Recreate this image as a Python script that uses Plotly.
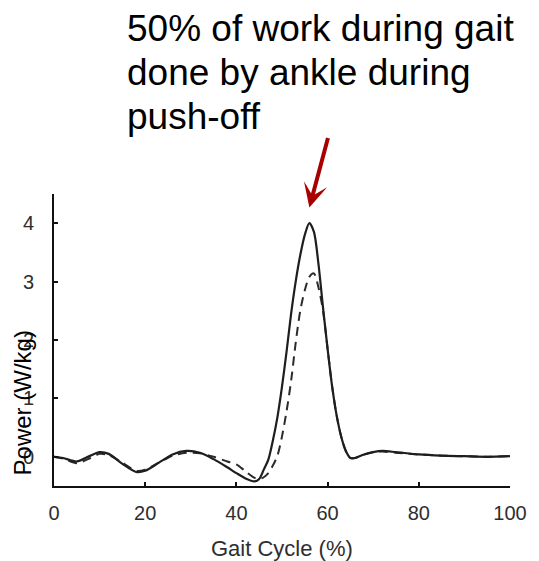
import plotly.graph_objects as go

# ---- data ----
gait_solid = [0, 2, 5, 8, 10, 12, 15, 18, 20, 23, 26, 29, 32, 35, 38, 40, 42, 44, 45, 46, 47,
              48, 49, 50, 51, 52, 53, 54, 55, 56, 57, 58, 59, 60, 61, 62, 63, 64, 65, 66,
              68, 70, 72, 75, 80, 85, 90, 95, 100]
power_solid = [0.0, -0.02, -0.08, 0.02, 0.08, 0.05, -0.12, -0.26, -0.24, -0.10, 0.04, 0.10, 0.07,
               -0.04, -0.18, -0.28, -0.37, -0.42, -0.38, -0.22, -0.05,
               0.28, 0.68, 1.2, 1.8, 2.45, 3.0, 3.45, 3.8, 4.0, 3.85, 3.3, 2.55, 1.85, 1.2,
               0.7, 0.34, 0.1, -0.02, -0.02, 0.04, 0.08, 0.10, 0.08, 0.04, 0.02, 0.01, 0.0, 0.01]

gait_dashed = [0, 2, 5, 8, 10, 12, 15, 18, 20, 23, 26, 29, 32, 35, 38, 40, 42, 44, 45, 46, 47,
               48, 49, 50, 51, 52, 53, 54, 55, 56, 57, 58, 59, 60, 61, 62, 63, 64, 65, 66,
               68, 70, 72, 75, 80, 85, 90, 95, 100]
power_dashed = [0.0, -0.03, -0.11, -0.02, 0.05, 0.03, -0.10, -0.24, -0.22, -0.10, 0.02, 0.07, 0.06,
                0.0, -0.08, -0.13, -0.25, -0.36, -0.38, -0.35, -0.28,
                -0.15, 0.02, 0.35, 0.78, 1.3, 1.95, 2.5, 2.85, 3.08, 3.14, 2.9, 2.5, 1.85, 1.2,
                0.7, 0.34, 0.1, -0.02, -0.02, 0.04, 0.08, 0.09, 0.07, 0.04, 0.02, 0.01, 0.0, 0.01]

x_ticks = [0, 20, 40, 60, 80, 100]
y_ticks = [0, 1, 2, 3, 4]
x_title = "Gait Cycle (%)"
y_title = "Power (W/kg)"
note_lines = ["50% of work during gait", "done by ankle during", "push-off"]

# ---- layout geometry (pixels) ----
W, H = 539, 561
L, R, T, B = 54, 23, 194, 75
PW, PH = W - L - R, H - T - B


def px(xp):
    return (xp - L) / PW


def py(yp):
    return (H - B - yp) / PH


FONT = "Liberation Sans, Arial, sans-serif"
TICKC = "#2e2e2e"

fig = go.Figure()
fig.add_trace(go.Scatter(x=gait_dashed, y=power_dashed, mode="lines",
                         line=dict(color="#2b2b2b", width=2, dash="9px,6px", shape="spline",
                                   smoothing=0.8),
                         hoverinfo="skip", showlegend=False))
fig.add_trace(go.Scatter(x=gait_solid, y=power_solid, mode="lines",
                         line=dict(color="#1e1e1e", width=2.2, shape="spline", smoothing=0.8),
                         hoverinfo="skip", showlegend=False))

annotations = []
# y title (overlapping the low tick labels like in the reference)
annotations.append(dict(text=y_title, xref="paper", yref="paper", x=px(22), y=py(403),
                        xanchor="center", yanchor="middle", textangle=-90, showarrow=False,
                        font=dict(family=FONT, size=24, color="#000000")))
# x title
annotations.append(dict(text=x_title, xref="paper", yref="paper", x=px(285), y=py(548),
                        xanchor="center", yanchor="middle", showarrow=False,
                        font=dict(family=FONT, size=22, color=TICKC)))
# note text lines
baselines = [41, 85, 129]
for line, bl in zip(note_lines, baselines):
    annotations.append(dict(text=line, xref="paper", yref="paper", x=px(126), y=py(bl - 12.8),
                            xanchor="left", yanchor="middle", showarrow=False,
                            font=dict(family=FONT, size=37, color="#000000")))
# arrow pointing at the solid peak
peak_i = max(range(len(power_solid)), key=lambda i: power_solid[i])
annotations.append(dict(text="", x=gait_solid[peak_i], y=power_solid[peak_i] + 0.27,
                        xref="x", yref="y", showarrow=True, ax=19, ay=-71,
                        arrowhead=3, arrowsize=1.0, arrowwidth=4, arrowcolor="#A80000",
                        standoff=0))

fig.update_layout(
    width=W, height=H,
    margin=dict(l=L, r=R, t=T, b=B, pad=0),
    paper_bgcolor="white", plot_bgcolor="white",
    showlegend=False,
    annotations=annotations,
    xaxis=dict(range=[0, 100], tickvals=x_ticks, ticktext=[str(v) for v in x_ticks],
               showline=True, linecolor="#111111", linewidth=2, showgrid=False, zeroline=False,
               ticks="inside", ticklen=4, tickwidth=2, tickcolor="#111111",
               tickfont=dict(family=FONT, size=20, color=TICKC), ticklabelstandoff=8,
               fixedrange=True),
    yaxis=dict(range=[-0.5, 4.5], tickvals=y_ticks, ticktext=[str(v) for v in y_ticks],
               showline=True, linecolor="#111111", linewidth=2, showgrid=False, zeroline=False,
               ticks="inside", ticklen=4, tickwidth=2, tickcolor="#111111",
               tickfont=dict(family=FONT, size=20, color=TICKC), ticklabelstandoff=14,
               fixedrange=True),
)

fig.write_html("out.html", post_script="document.body.style.margin='0';document.body.style.overflow='hidden';",
               config={"displayModeBar": False})
